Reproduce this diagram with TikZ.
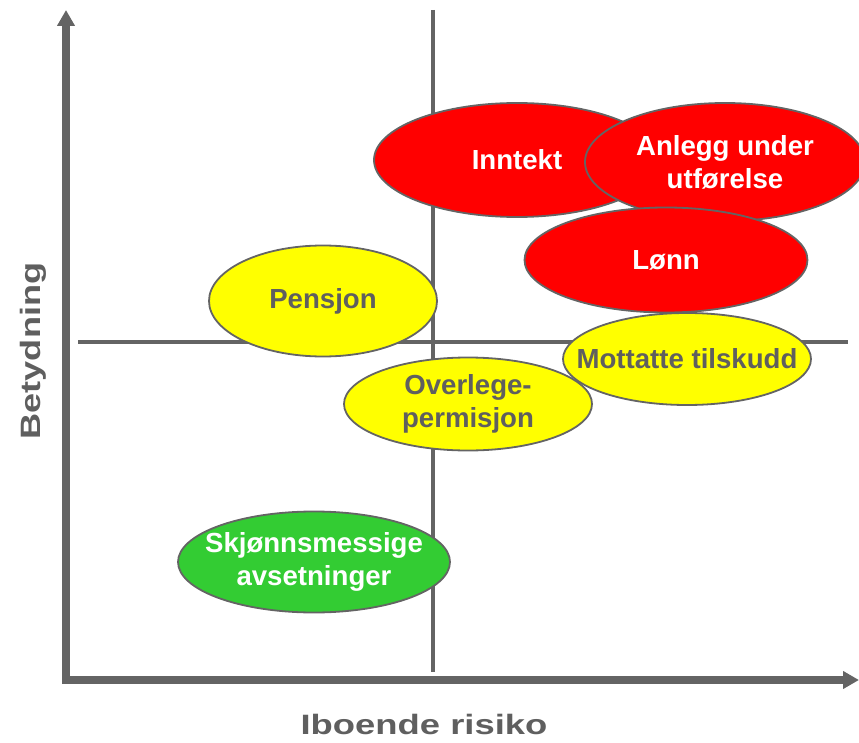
\documentclass[tikz,border=0pt]{standalone}
\usepackage{fontspec}
\setmainfont{Liberation Sans}
\usetikzlibrary{shapes.geometric,arrows.meta}
\definecolor{axisgray}{HTML}{646464}
\definecolor{textgray}{HTML}{5F5F5F}
\definecolor{bubred}{HTML}{FF0000}
\definecolor{bubyellow}{HTML}{FFFF00}
\definecolor{bubgreen}{HTML}{33CC33}
\tikzset{
  axisline/.style={draw=axisgray, line width=8pt, -{Triangle[length=16pt,width=17pt]}},
  crossline/.style={draw=axisgray, line width=3.5pt},
  bubble/.style={ellipse, draw=axisgray, line width=1.8pt, inner sep=0pt},
  redbub/.style={bubble, fill=bubred},
  yellowbub/.style={bubble, fill=bubyellow},
  greenbub/.style={bubble, fill=bubgreen},
  bubtext/.style={inner sep=0pt, align=center, font=\fontsize{27.6}{33}\selectfont\bfseries},
  whitetext/.style={bubtext, text=white},
  graytext/.style={bubtext, text=textgray},
  axislabel/.style={text=textgray, font=\fontsize{28}{32}\selectfont\bfseries, inner sep=0pt, anchor=base}
}
\begin{document}
\begin{tikzpicture}[x=1pt,y=-1pt]
\useasboundingbox (0,0) rectangle (859,743);
\clip (0,0) rectangle (859,743);
% crosshair
\coordinate (vtop) at (433,10);
\coordinate (vbot) at (433,672);
\coordinate (hleft) at (78,342);
\coordinate (hright) at (848,342);
\draw[crossline] (vtop) -- (vbot);
\draw[crossline] (hleft) -- (hright);
% axes
\coordinate (ybot) at (66,684);
\coordinate (ytop) at (66,10);
\coordinate (xleft) at (62,680);
\coordinate (xright) at (859,680);
\draw[axisline] (ybot) -- (ytop);
\draw[axisline] (xleft) -- (xright);
% labels
\node[axislabel] (xlab) at (424,734) {\scalebox{1.3}[1]{Iboende risiko}};
\node[axislabel, rotate=90] (ylab) at (40,351) {\scalebox{1.29}[1]{Betydning}};
% bubbles
\node[greenbub, minimum width=272pt, minimum height=101pt] (skj) at (314,562) {};
\node[whitetext] (skjT) at (skj.center) {Skjønnsmessige\\avsetninger};
\node[yellowbub, minimum width=228pt, minimum height=111pt] (pen) at (323,301) {};
\node[graytext] (penT) at (pen.center) {Pensjon};
\node[yellowbub, minimum width=248pt, minimum height=93pt] (ovl) at (468,404) {};
\node[graytext] (ovlT) at (ovl.center) {Overlege-\\permisjon};
\node[redbub, minimum width=286pt, minimum height=114pt] (inn) at (517,160) {};
\node[whitetext] (innT) at (inn.center) {Inntekt};
\node[redbub, minimum width=280pt, minimum height=118pt] (anl) at (725,162) {};
\node[whitetext] (anlT) at (anl.center) {Anlegg under\\utførelse};
\node[redbub, minimum width=283pt, minimum height=105pt] (lon) at (666,260) {};
\node[whitetext] (lonT) at (lon.center) {Lønn};
\node[yellowbub, minimum width=248pt, minimum height=92pt] (mot) at (687,359) {};
\node[graytext] (motT) at (mot.center) {Mottatte tilskudd};
\end{tikzpicture}
\end{document}
